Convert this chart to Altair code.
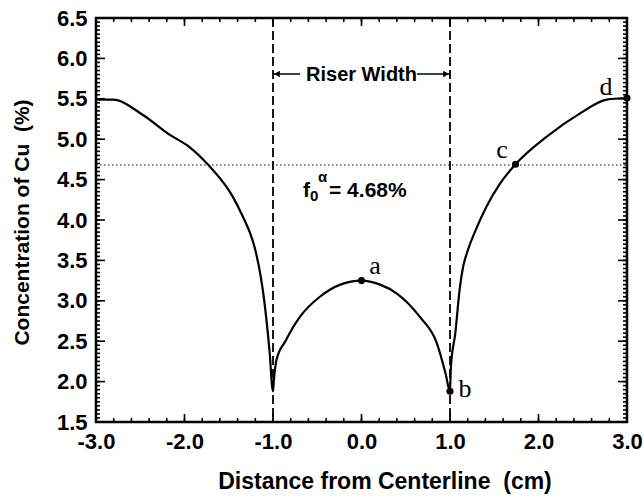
import altair as alt
import pandas as pd

# ---- data ----
curve_x = [-3.0, -2.81, -2.47, -2.16, -1.94, -1.73, -1.45, -1.34, -1.26, -1.2, -1.1, -1.04, -1.0,
           -0.99, -0.96, -0.86, -0.69, -0.47, -0.24, 0.0, 0.21, 0.40, 0.66, 0.85, 0.95, 1.0,
           1.01, 1.06, 1.11, 1.15, 1.20, 1.30, 1.41, 1.565, 1.74, 2.09, 2.47, 2.77, 3.0]
curve_y = [5.49, 5.49, 5.30, 5.05, 4.90, 4.68, 4.28, 4.04, 3.84, 3.63, 3.01, 2.39, 1.88,
           2.02, 2.27, 2.50, 2.81, 3.05, 3.20, 3.25, 3.20, 3.09, 2.80, 2.48, 2.10, 1.88,
           2.18, 2.60, 3.15, 3.43, 3.62, 3.90, 4.16, 4.45, 4.69, 5.03, 5.32, 5.49, 5.51]

pt_names = ["a", "b", "c", "d"]
pt_x = [0.0, 1.0, 1.74, 3.0]
pt_y = [3.25, 1.88, 4.69, 5.51]
lbl_x = [0.153, 1.169, 1.588, 2.763]
lbl_y = [3.33, 1.81, 4.77, 5.547]

riser_x = [-1.0, 1.0]
f0_level = [4.68]

x_labels = [-3.0, -2.0, -1.0, 0.0, 1.0, 2.0, 3.0]
y_labels = [1.5, 2.0, 2.5, 3.0, 3.5, 4.0, 4.5, 5.0, 5.5, 6.0, 6.5]
x_major = [-3, -2, -1, 0, 1, 2, 3]
x_minor = [round(-3 + 0.2 * i, 2) for i in range(31)]
y_minor = [round(1.5 + 0.05 * i, 2) for i in range(101)]

arrow_start = [-1.0, 0.627]
arrow_end = [-0.695, 1.0]
arrow_tip = [-0.955, 0.955]
arrow_shape = ["triangle-left", "triangle-right"]
arrow_y = 5.807

W, H = 531, 404
FONT = "Liberation Sans"
LBL = "datum.value < 0 ? '-' + format(-datum.value, '.1f') : format(datum.value, '.1f')"

xs = alt.Scale(domain=[-3, 3], nice=False, zero=False)
ys = alt.Scale(domain=[1.5, 6.5], nice=False, zero=False)

x_axis = alt.Axis(values=x_labels, labelExpr=LBL, ticks=False, domain=False, grid=False,
                  labelPadding=9, title="Distance from Centerline\u00a0 (cm)", titleFontSize=23,
                  titleX=W / 2 + 23, titleY=66, titleBaseline="alphabetic", titleAlign="center")
y_axis = alt.Axis(values=y_labels, labelExpr=LBL, ticks=False, domain=False, grid=False,
                  labelPadding=9, title="Concentration of Cu\u00a0 (%)",
                  titleX=-74, titleY=H / 2 + 2, titleBaseline="middle", titleAlign="center", titleAngle=-90)


def X(field):
    return alt.X(field, scale=xs, axis=x_axis)


def Y(field):
    return alt.Y(field, scale=ys, axis=y_axis)


curve_df = pd.DataFrame({"x": curve_x, "y": curve_y})
curve = alt.Chart(curve_df).mark_line(color="black", strokeWidth=2.2, interpolate="monotone").encode(
    x=X("x:Q"), y=Y("y:Q"))

pts_df = pd.DataFrame({"x": pt_x, "y": pt_y, "name": pt_names, "lx": lbl_x, "ly": lbl_y})
points = alt.Chart(pts_df).mark_circle(color="black", size=50, opacity=1).encode(x=X("x:Q"), y=Y("y:Q"))
letters = alt.Chart(pts_df).mark_text(font="Liberation Serif", fontSize=26, align="center",
                                      baseline="alphabetic", color="black").encode(
    x=X("lx:Q"), y=Y("ly:Q"), text="name:N")

riser_df = pd.DataFrame({"x": riser_x})
riser = alt.Chart(riser_df).mark_rule(color="black", strokeWidth=1.8, strokeDash=[9, 4]).encode(
    x=X("x:Q"), y=alt.value(0), y2=alt.value(H))

f0_df = pd.DataFrame({"y": f0_level})
f0_line = alt.Chart(f0_df).mark_rule(color="black", strokeWidth=1.1, strokeDash=[1.5, 2.5]).encode(
    y=Y("y:Q"), x=alt.value(0), x2=alt.value(W))

arr_df = pd.DataFrame({"x": arrow_start, "x2": arrow_end, "tip": arrow_tip, "shape": arrow_shape,
                       "y": [arrow_y, arrow_y]})
arr_lines = alt.Chart(arr_df).mark_rule(color="black", strokeWidth=1.5).encode(
    x=X("x:Q"), x2="x2:Q", y=Y("y:Q"))
arr_heads = alt.Chart(arr_df).mark_point(filled=True, color="black", size=45, opacity=1).encode(
    x=X("tip:Q"), y=Y("y:Q"), shape=alt.Shape("shape:N", scale=None))

texts_df = pd.DataFrame({
    "x": [0.0, -0.661, -0.583, -0.492, -0.367],
    "y": [5.724, 4.285, 4.235, 4.47, 4.285],
    "t": ["Riser Width", "f", "0", "α", "= 4.68%"],
})
riser_text = alt.Chart(texts_df.iloc[[0]]).mark_text(font=FONT, fontWeight="bold", fontSize=20,
                                                     align="center", baseline="alphabetic", color="black").encode(
    x=X("x:Q"), y=Y("y:Q"), text="t:N")
f_big = alt.Chart(texts_df.iloc[[1, 4]]).mark_text(font=FONT, fontWeight="bold", fontSize=21,
                                                   align="left", baseline="alphabetic", color="black").encode(
    x=X("x:Q"), y=Y("y:Q"), text="t:N")
f_small = alt.Chart(texts_df.iloc[[2, 3]]).mark_text(font=FONT, fontWeight="bold", fontSize=15,
                                                     align="left", baseline="alphabetic", color="black").encode(
    x=X("x:Q"), y=Y("y:Q"), text="t:N")

# ticks (inward, on all four sides)
ymaj_df = pd.DataFrame({"y": y_labels})
ymin_df = pd.DataFrame({"y": y_minor})
xmaj_df = pd.DataFrame({"x": x_major})
xmin_df = pd.DataFrame({"x": x_minor})


def yticks(df, length):
    left = alt.Chart(df).mark_rule(color="black", strokeWidth=1.6).encode(
        y=Y("y:Q"), x=alt.value(0), x2=alt.value(length))
    right = alt.Chart(df).mark_rule(color="black", strokeWidth=1.6).encode(
        y=Y("y:Q"), x=alt.value(W - length), x2=alt.value(W))
    return [left, right]


def xticks(df, length):
    bottom = alt.Chart(df).mark_rule(color="black", strokeWidth=1.6).encode(
        x=X("x:Q"), y=alt.value(H - length), y2=alt.value(H))
    top = alt.Chart(df).mark_rule(color="black", strokeWidth=1.6).encode(
        x=X("x:Q"), y=alt.value(0), y2=alt.value(length))
    return [bottom, top]


tick_layers = yticks(ymaj_df, 9) + yticks(ymin_df, 4) + xticks(xmaj_df, 8) + xticks(xmin_df, 4)

chart = alt.layer(
    curve, f0_line, riser, *tick_layers, arr_lines, arr_heads, riser_text, f_big, f_small,
    points, letters,
).properties(
    width=W, height=H,
    autosize=alt.AutoSizeParams(type="none"),
    padding={"left": 96, "top": 18, "right": 17, "bottom": 76},
    background="white",
).configure_view(
    stroke="black", strokeWidth=2.5,
).configure_axis(
    labelFont=FONT, labelFontSize=22, labelFontWeight="bold", labelColor="black",
    titleFont=FONT, titleFontSize=21, titleFontWeight="bold", titleColor="black",
    labelFlush=False, labelOverlap=False,
)

chart.save("out.html", embed_options={"renderer": "svg", "actions": False})
